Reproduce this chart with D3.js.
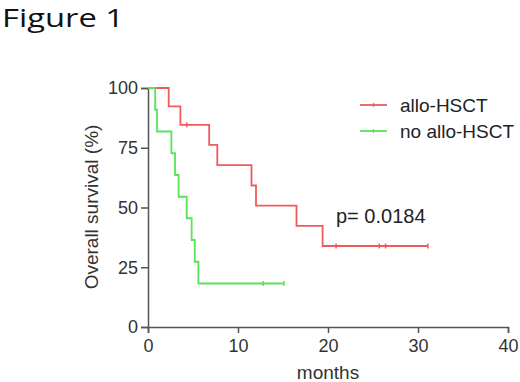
<!DOCTYPE html>
<html>
<head>
<meta charset="utf-8">
<script src="https://cdn.jsdelivr.net/npm/d3@7"></script>
<style>
  body { margin: 0; background: #fff; }
  svg { display: block; }
  text { font-family: "Liberation Sans", Arial, sans-serif; fill: #333; }
</style>
</head>
<body>
<div id="chart"></div>
<script>
// Kaplan-Meier steps
var allo_time = [0, 2.3, 3.6, 6.8, 7.7, 11.5, 12.0, 16.5, 19.4, 31.1];
var allo_surv = [100, 92.3, 84.6, 76.2, 67.7, 59.2, 50.8, 42.3, 33.9, 33.9];
var allo_censor = [4.3, 20.9, 25.7, 26.4, 31.1];

var no_time = [0, 0.8, 1.0, 2.6, 3.0, 3.4, 4.3, 4.85, 5.2, 5.6, 15.1];
var no_surv = [100, 90.9, 81.8, 72.7, 63.6, 54.5, 45.5, 36.4, 27.3, 18.2, 18.2];
var no_censor = [12.8, 15.1];

var x_ticks = [0, 10, 20, 30, 40];
var y_ticks = [0, 25, 50, 75, 100];
var series_names = ["allo-HSCT", "no allo-HSCT"];
var series_colors = ["#ef5a5e", "#5ae35a"];
var p_label = "p= 0.0184";

var width = 520, height = 382;
var svg = d3.select("#chart").append("svg")
    .attr("width", width)
    .attr("height", height);

var x = d3.scaleLinear().domain([0, 40]).range([148, 508]);
var y = d3.scaleLinear().domain([0, 100]).range([327, 88]);

// title
svg.append("text")
    .attr("x", 2)
    .attr("y", 27)
    .attr("textLength", 122)
    .attr("lengthAdjust", "spacingAndGlyphs")
    .style("font-family", "'Open Sans', Lato, sans-serif")
    .style("font-size", "25px")
    .style("fill", "#111")
    .text("Figure 1");

// axes
var yAxis = svg.append("g")
    .attr("transform", "translate(" + x(0) + ",0)")
    .call(d3.axisLeft(y).tickValues(y_ticks).tickSize(7).tickPadding(3));
var xAxis = svg.append("g")
    .attr("transform", "translate(0," + y(0) + ")")
    .call(d3.axisBottom(x).tickValues(x_ticks).tickSize(6).tickPadding(6));

[xAxis, yAxis].forEach(function(a) {
    a.select(".domain").attr("stroke", "#555").attr("stroke-width", 1.5);
    a.selectAll(".tick line").attr("stroke", "#555").attr("stroke-width", 1.5);
    a.selectAll(".tick text")
        .style("font-family", "'Liberation Sans', Arial, sans-serif")
        .style("font-size", "18px")
        .attr("fill", "#333");
});

// axis titles
svg.append("text")
    .attr("text-anchor", "middle")
    .attr("transform", "translate(" + 98 + "," + 207 + ")rotate(-90)")
    .style("font-size", "19px")
    .text("Overall survival (%)");

svg.append("text")
    .attr("text-anchor", "middle")
    .attr("x", x(20))
    .attr("y", 379)
    .style("font-size", "19px")
    .text("months");

// survival curves
function step_lookup(times, surv, t) {
    var v = surv[0];
    for (var i = 0; i < times.length; i++) {
        if (times[i] <= t) v = surv[i];
    }
    return v;
}

var line = d3.line()
    .x(function(d) { return x(d[0]); })
    .y(function(d) { return y(d[1]); })
    .curve(d3.curveStepAfter);

function draw_curve(times, surv, censor, color) {
    var pts = times.map(function(t, i) { return [t, surv[i]]; });
    svg.append("path")
        .attr("d", line(pts))
        .attr("fill", "none")
        .attr("stroke", color)
        .attr("stroke-width", 1.8);
    svg.selectAll(null)
        .data(censor)
        .enter().append("line")
        .attr("x1", function(d) { return x(d); })
        .attr("x2", function(d) { return x(d); })
        .attr("y1", function(d) { return y(step_lookup(times, surv, d)) - 2.5; })
        .attr("y2", function(d) { return y(step_lookup(times, surv, d)) + 2.5; })
        .attr("stroke", color)
        .attr("stroke-width", 1.5);
}

draw_curve(allo_time, allo_surv, allo_censor, series_colors[0]);
draw_curve(no_time, no_surv, no_censor, series_colors[1]);

// p value
svg.append("text")
    .attr("x", 336)
    .attr("y", 223)
    .style("font-size", "20px")
    .style("fill", "#222")
    .text(p_label);

// legend
var legend = svg.append("g");
series_names.forEach(function(name, i) {
    var ly = 105 + i * 26;
    legend.append("line")
        .attr("x1", 360).attr("x2", 387)
        .attr("y1", ly).attr("y2", ly)
        .attr("stroke", series_colors[i])
        .attr("stroke-width", 1.8);
    legend.append("line")
        .attr("x1", 373.5).attr("x2", 373.5)
        .attr("y1", ly - 2).attr("y2", ly + 2)
        .attr("stroke", series_colors[i])
        .attr("stroke-width", 1.2);
    legend.append("text")
        .attr("x", 400)
        .attr("y", ly + 7)
        .style("font-size", "19px")
        .style("fill", "#222")
        .text(name);
});
</script>
</body>
</html>
